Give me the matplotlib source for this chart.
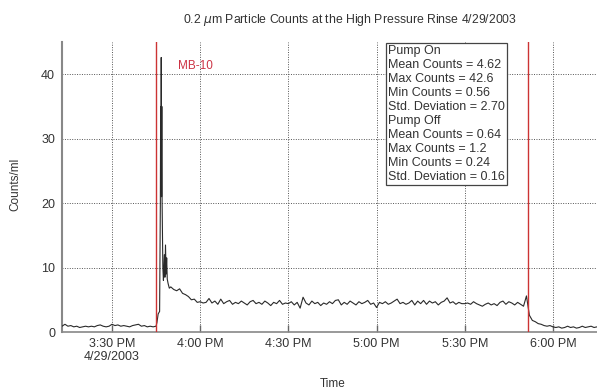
import numpy as np
import matplotlib
matplotlib.use('Agg')
import matplotlib.pyplot as plt

plt.rcParams['font.family'] = ['Liberation Sans', 'DejaVu Sans']

# time in minutes after 3:00 PM, counts/ml
pre_t = np.arange(13, 46)
pre_v = [0.9, 1.2, 0.9, 1.0, 0.8, 0.9, 0.7, 0.8, 0.9, 0.8, 0.9, 0.8, 1.0, 1.1, 0.9,
         0.8, 0.9, 1.2, 1.0, 1.1, 0.9, 1.0, 0.9, 0.8, 1.0, 1.1, 1.2, 0.9, 1.0, 0.8,
         0.9, 0.8, 0.9]

spike_t = [45.3, 45.7, 46.2, 46.45, 46.55, 46.65, 46.75, 46.85, 46.95, 47.05, 47.3, 47.5,
           47.8, 48.0, 48.2, 48.4, 48.6, 48.8, 49.1, 49.5]
spike_v = [1.5, 2.8, 3.2, 20.0, 35.0, 22.0, 42.6, 21.0, 35.0, 20.0, 10.0, 8.0,
           12.0, 8.5, 13.5, 9.0, 11.5, 8.2, 7.5, 6.8]

post_t = np.arange(50, 196)
post_v = [7.0, 6.6, 6.4, 6.7, 6.0, 5.8, 5.5, 5.0, 5.1, 4.6,
          4.7, 4.5, 4.6, 5.2, 4.5, 4.8, 4.3, 5.1, 4.4, 4.7,
          4.9, 4.3, 4.6, 4.4, 4.8, 4.5, 4.2, 4.7, 4.9, 4.4,
          4.6, 4.3, 4.8, 4.5, 4.1, 4.6, 4.4, 4.9, 4.3, 4.5,
          4.4, 4.7, 4.2, 4.6, 3.7, 5.4, 4.5, 4.2, 4.8, 4.4,
          4.6, 4.1, 4.5, 4.3, 4.7, 4.4, 4.9, 5.0, 4.2, 4.6,
          4.3, 4.8, 4.5, 4.2, 4.7, 4.4, 4.6, 4.9, 4.3, 4.5,
          3.8, 4.6, 4.4, 4.7, 4.3, 4.5, 4.8, 5.1, 4.4, 4.6,
          4.3, 4.5, 4.9, 4.2, 4.8, 4.4, 4.9, 4.3, 4.8, 4.5,
          4.7, 4.2, 4.6, 4.8, 5.3, 4.5, 4.7, 4.3, 4.6, 4.4,
          4.4, 4.5, 4.3, 4.7, 4.4, 4.2, 4.0, 4.3, 4.5, 4.2,
          4.4, 4.1, 4.6, 4.8, 4.3, 4.7, 4.5, 4.2, 4.6, 4.3,
          4.0, 5.6,
          2.6, 1.8, 1.6, 1.3, 1.2, 1.0, 0.9, 1.0, 0.8, 0.7,
          0.8, 0.6, 0.7, 0.9, 0.7, 0.8, 0.6, 0.7, 0.9, 0.7,
          0.8, 0.9, 0.7, 0.8]

tick_min = [30, 60, 90, 120, 150, 180]
tick_labels = ['3:30 PM\n4/29/2003', '4:00 PM', '4:30 PM', '5:00 PM', '5:30 PM', '6:00 PM']

pump_on = 45.0
pump_off = 171.6

stats = ['Pump On', 'Mean Counts = 4.62', 'Max Counts = 42.6', 'Min Counts = 0.56',
         'Std. Deviation = 2.70', 'Pump Off', 'Mean Counts = 0.64', 'Max Counts = 1.2',
         'Min Counts = 0.24', 'Std. Deviation = 0.16']

t = np.concatenate([pre_t, spike_t, post_t])
v = np.concatenate([pre_v, spike_v, post_v])

fig = plt.figure(figsize=(5.97, 3.90), dpi=100)
ax = fig.add_axes([0.1039, 0.1487, 0.8961, 0.7436])

ax.plot(t, v, color='#2a2a2a', lw=0.8, zorder=3)
ax.axvline(pump_on, color='#cc3333', lw=1, zorder=4)
ax.axvline(pump_off, color='#cc3333', lw=1, zorder=4)
ax.text(52.4, 41.2, 'MB-10', color='#cc3344', fontsize=8.5, va='center', ha='left')

ax.set_xlim(13, 195)
ax.set_ylim(0, 45)
ax.set_xticks(tick_min)
ax.set_xticklabels(tick_labels)
ax.set_yticks([0, 10, 20, 30, 40])

ax.grid(True, ls=(0, (1, 1.5)), color='#555555', lw=0.7)
for s in ['top', 'right']:
    ax.spines[s].set_visible(False)
ax.spines['left'].set_color('#888888')
ax.spines['left'].set_linewidth(1.5)
ax.spines['bottom'].set_color('#888888')
ax.spines['bottom'].set_linewidth(1.2)

ax.tick_params(axis='x', direction='in', length=5, width=1, color='#666666',
               labelsize=9, labelcolor='#333333', pad=4)
ax.tick_params(axis='y', length=0, labelsize=9, labelcolor='#333333', pad=5)

ax.text(0.609, 0.99, '\n'.join(stats), transform=ax.transAxes, va='top', ha='left',
        fontsize=9, color='#333333', linespacing=1.22, zorder=5,
        bbox=dict(boxstyle='square,pad=0.15', fc='white', ec='#444444', lw=0.9))

fig.text(350 / 597, 1 - 20 / 390, r'0.2 $\mu$m Particle Counts at the High Pressure Rinse 4/29/2003',
         ha='center', va='center', fontsize=8.8, color='#333333')
fig.text(15 / 597, 1 - 184 / 390, 'Counts/ml', rotation=90, ha='center', va='center',
         fontsize=8.5, color='#333333')
fig.text(333 / 597, 1 - 384 / 390, 'Time', ha='center', va='center', fontsize=8.5, color='#333333')

fig.savefig('out.png', dpi=100)
